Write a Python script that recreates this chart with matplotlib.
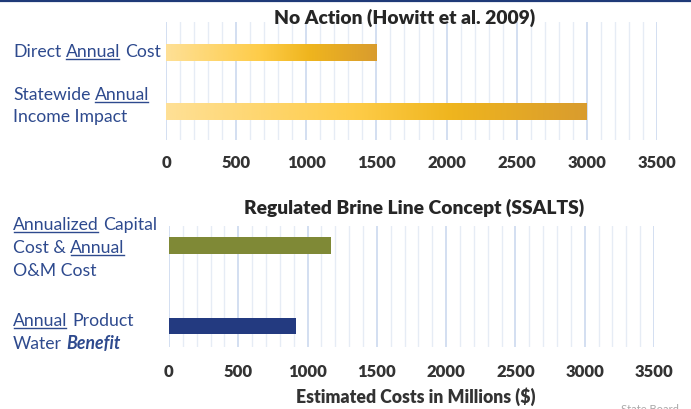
import matplotlib
matplotlib.use("Agg")
import matplotlib.pyplot as plt
import numpy as np
from matplotlib.colors import LinearSegmentedColormap
from matplotlib.ticker import MultipleLocator
from matplotlib.transforms import IdentityTransform

# ---- data ----
top_title = "No Action (Howitt et al. 2009)"
top_values = [1500, 3000]
bottom_title = "Regulated Brine Line Concept (SSALTS)"
bottom_values = [1170, 915]
bottom_colors = ["#7F8936", "#233A80"]
xlabel = "Estimated Costs in Millions ($)"
x_max = 3500

# label segments: (text, underline, style)
top_labels = [
    [[("Direct ", False, "n"), ("Annual", True, "n"), (" Cost", False, "n")]],
    [[("Statewide ", False, "n"), ("Annual", True, "n")],
     [("Income Impact", False, "n")]],
]
bottom_labels = [
    [[("Annualized", True, "n"), (" Capital", False, "n")],
     [("Cost & ", False, "n"), ("Annual", True, "n")],
     [("O&M Cost", False, "n")]],
    [[("Annual", True, "n"), (" Product", False, "n")],
     [("Water ", False, "n"), ("Benefit", False, "bi")]],
]

FONT = "Lato"
plt.rcParams["font.family"] = [FONT, "DejaVu Sans"]
W, H = 691, 409
fig = plt.figure(figsize=(W / 100, H / 100), dpi=100)
fig.patch.set_facecolor("white")

LABEL_COLOR = "#2E4A8E"
TICK_COLOR = "#333333"
TICK_FS = 12

def setup_axes(rect_px, ylim, pad):
    l, t, r, b = rect_px
    ax = fig.add_axes([l / W, 1 - b / H, (r - l) / W, (b - t) / H])
    ax.set_xlim(0, x_max)
    ax.set_ylim(*ylim)
    ax.xaxis.set_major_locator(MultipleLocator(500))
    ax.xaxis.set_minor_locator(MultipleLocator(100))
    ax.grid(which="major", axis="x", color="#C8D6EE", lw=1.1, zorder=0)
    ax.grid(which="minor", axis="x", color="#E6ECF5", lw=1.0, zorder=0)
    ax.set_axisbelow(True)
    for s in ax.spines.values():
        s.set_visible(False)
    ax.set_yticks([])
    ax.tick_params(axis="x", which="both", length=0, pad=pad,
                   labelsize=TICK_FS, labelcolor=TICK_COLOR)
    return ax

# top panel
ax1 = setup_axes((166, 22, 657, 140), (1.483, -0.517), 10.5)
cmap = LinearSegmentedColormap.from_list(
    "gold", [(0.0, "#FEE096"), (0.45, "#FECC48"), (0.68, "#EFB51E"), (1.0, "#D99C2E")])
grad = np.linspace(0, 1, 256).reshape(1, -1)
bars = ax1.barh(range(len(top_values)), top_values, height=0.29,
                color="none", zorder=2)
for bar, v in zip(bars, top_values):
    y0 = bar.get_y()
    im = ax1.imshow(grad, cmap=cmap, aspect="auto",
                    extent=(0, v, y0 + bar.get_height(), y0), zorder=2,
                    interpolation="bilinear")
    im.set_clip_path(bar)
ax1.set_xlim(0, x_max)
ax1.set_ylim(1.483, -0.517)

# bottom panel
ax2 = setup_axes((169, 226, 654, 347), (1.26, -0.242), 12.5)
ax2.barh(range(len(bottom_values)), bottom_values, height=0.2,
         color=bottom_colors, zorder=2)

for ax in (ax1, ax2):
    for lab in ax.get_xticklabels():
        lab.set_fontweight("heavy")

# titles
fig.text(405 / W, 1 - 18 / H, top_title, ha="center", va="center",
         fontsize=13.9, fontweight="heavy", color="#262626")
fig.text(414 / W, 1 - 208 / H, bottom_title, ha="center", va="center",
         fontsize=13.9, fontweight="heavy", color="#262626")
fig.text(416 / W, 1 - 397 / H, xlabel, ha="center", va="center",
         fontsize=12.7, fontweight="heavy", color="#333333")

# footer fragment and top rule
fig.text(621 / W, 1 - 413 / H, "State Board", ha="left", va="baseline",
         fontsize=8, color="#A8A8A8")
fig.add_artist(plt.Line2D([0, 1], [1 - 0.8 / H, 1 - 0.8 / H],
                          transform=fig.transFigure, color="#1F3A78", lw=1.6))

# rich labels
fig.canvas.draw()
renderer = fig.canvas.get_renderer()
LFS = 12.7

def _kw(style):
    kw = dict(fontsize=LFS)
    if style == "bi":
        kw.update(fontweight="bold", fontstyle="italic")
    return kw

def text_width(s, style="n"):
    t = fig.text(0, 0, s, transform=IdentityTransform(), **_kw(style))
    w = t.get_window_extent(renderer).width
    t.remove()
    return w

def prefix_width(s):
    # width of s including trailing spaces
    return text_width(s + "|") - text_width("|")

def draw_line(segments, x, y_img):
    yb = H - y_img
    prefix = ""
    for s, ul, style in segments:
        lead = len(s) - len(s.lstrip(" "))
        core = s.strip(" ")
        start = x + (prefix_width(prefix + " " * lead) if (prefix or lead) else 0)
        t = fig.text(start, yb, core, transform=IdentityTransform(),
                     ha="left", va="baseline", color=LABEL_COLOR, **_kw(style))
        w = t.get_window_extent(renderer).width
        if ul:
            fig.add_artist(plt.Line2D([start + 0.5, start + w - 1], [yb - 2, yb - 2],
                                      transform=IdentityTransform(),
                                      color=LABEL_COLOR, lw=1.0))
        prefix += s

# baselines (image y)
for lines, baselines in zip(top_labels, [[57], [100, 122]]):
    for seg, yb in zip(lines, baselines):
        draw_line(seg, 13, yb)
for lines, baselines in zip(bottom_labels, [[230, 253, 276], [326, 349]]):
    for seg, yb in zip(lines, baselines):
        draw_line(seg, 13, yb)

fig.savefig("out.png", dpi=100, facecolor="white")
